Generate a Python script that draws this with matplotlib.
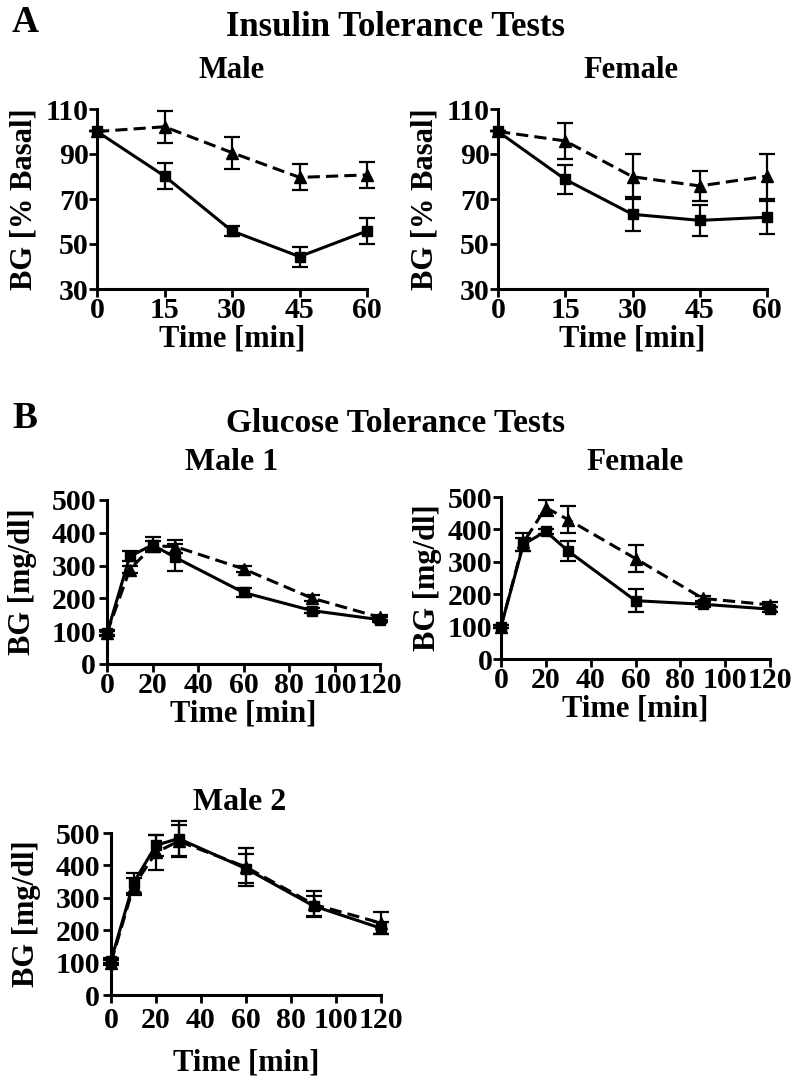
import matplotlib
matplotlib.use("Agg")
import matplotlib.pyplot as plt

plt.rcParams['font.family'] = ['Liberation Serif', 'DejaVu Serif']
plt.rcParams['font.weight'] = 'bold'

W, H = 798, 1078

# ---------------- data ----------------
itt_time = [0, 15, 30, 45, 60]
itt_male_sq = [100, 80.2, 55.8, 44.4, 55.8]
itt_male_sq_err = [0, 5.7, 2.3, 4.4, 5.9]
itt_male_tri = [100, 102.1, 90.6, 79.6, 80.7]
itt_male_tri_err = [0, 7.2, 7.1, 5.8, 5.9]
itt_fem_sq = [100, 78.7, 63.2, 60.5, 61.9]
itt_fem_sq_err = [0, 6.6, 7.6, 6.8, 7.3]
itt_fem_tri = [100, 95.8, 79.9, 75.8, 80.2]
itt_fem_tri_err = [0, 7.8, 10.1, 6.8, 10.0]
itt_yticks = [30, 50, 70, 90, 110]
itt_xticks = [0, 15, 30, 45, 60]

gtt_time = [0, 10, 20, 30, 60, 90, 120]
gtt_m1_sq = [93, 328, 363, 325, 218, 163, 135]
gtt_m1_sq_err = [8, 15, 23, 40, 15, 8, 8]
gtt_m1_tri = [95, 288, 360, 358, 290, 201, 142]
gtt_m1_tri_err = [8, 10, 15, 21, 8, 8, 8]
gtt_f_sq = [100, 354, 394, 333, 180, 169, 154]
gtt_f_sq_err = [5, 20, 8, 31, 35, 8, 8]
gtt_f_tri = [100, 360, 467, 430, 310, 187, 167]
gtt_f_tri_err = [5, 28, 25, 42, 41, 8, 8]
gtt_m2_sq = [106, 346, 462, 483, 390, 275, 206]
gtt_m2_sq_err = [8, 30, 32, 55, 45, 30, 18]
gtt_m2_tri = [100, 335, 440, 475, 395, 280, 222]
gtt_m2_tri_err = [8, 25, 55, 50, 60, 40, 35]
gtt_yticks = [0, 100, 200, 300, 400, 500]
gtt_xticks = [0, 20, 40, 60, 80, 100, 120]

fig = plt.figure(figsize=(W / 100, H / 100), dpi=100)


def add_ax(left, right, top, bottom):
    return fig.add_axes([left / W, 1 - bottom / H, (right - left) / W, (bottom - top) / H])


def ftext(x, y, s, size, ha='center', va='center', rot=0):
    fig.text(x / W, 1 - y / H, s, fontsize=size, ha=ha, va=va, rotation=rot,
             fontweight='bold')


def draw(ax, t, sq, sqe, tri, trie, xlim, ylim, xticks, yticks, ylabel,
         xpad=0, ypad=1, xtpad=0, ytpad=0):
    ax.errorbar(t, tri, yerr=trie, color='black', lw=2.2, ls=(0, (4, 2)),
                marker='^', ms=8, capsize=5.5, capthick=1.6, elinewidth=1.6,
                clip_on=False, zorder=3)
    ax.errorbar(t, sq, yerr=sqe, color='black', lw=2.2, ls='-',
                marker='s', ms=7, capsize=5.5, capthick=1.6, elinewidth=1.6,
                clip_on=False, zorder=4)
    ax.set_xlim(*xlim)
    ax.set_ylim(*ylim)
    ax.set_xticks(xticks)
    ax.set_yticks(yticks)
    for s in ['top', 'right']:
        ax.spines[s].set_visible(False)
    for s in ['left', 'bottom']:
        ax.spines[s].set_linewidth(2.2)
    ax.tick_params(width=2.0, length=6, labelsize=21.5)
    ax.tick_params(axis='x', pad=xtpad)
    ax.tick_params(axis='y', pad=ytpad)
    for lab in ax.get_xticklabels() + ax.get_yticklabels():
        lab.set_fontweight('bold')
    ax.set_xlabel('Time [min]', fontsize=22, fontweight='bold', labelpad=xpad)
    ax.set_ylabel(ylabel, fontsize=22, fontweight='bold', labelpad=ypad)


# Panel A
ax1 = add_ax(97, 367, 109, 289)
draw(ax1, itt_time, itt_male_sq, itt_male_sq_err, itt_male_tri, itt_male_tri_err,
     (0, 60), (30, 110), itt_xticks, itt_yticks, 'BG [% Basal]', ypad=5)
ax2 = add_ax(498, 767, 109, 289)
draw(ax2, itt_time, itt_fem_sq, itt_fem_sq_err, itt_fem_tri, itt_fem_tri_err,
     (0, 60), (30, 110), itt_xticks, itt_yticks, 'BG [% Basal]', ypad=5)

# Panel B
ax3 = add_ax(107, 380, 500, 664)
draw(ax3, gtt_time, gtt_m1_sq, gtt_m1_sq_err, gtt_m1_tri, gtt_m1_tri_err,
     (0, 120), (0, 500), gtt_xticks, gtt_yticks, 'BG [mg/dl]', ypad=10, ytpad=2)
ax4 = add_ax(501, 770, 497, 659)
draw(ax4, gtt_time, gtt_f_sq, gtt_f_sq_err, gtt_f_tri, gtt_f_tri_err,
     (0, 120), (0, 500), gtt_xticks, gtt_yticks, 'BG [mg/dl]', ypad=4)
ax5 = add_ax(111, 381, 833, 995)
draw(ax5, gtt_time, gtt_m2_sq, gtt_m2_sq_err, gtt_m2_tri, gtt_m2_tri_err,
     (0, 120), (0, 500), gtt_xticks, gtt_yticks, 'BG [mg/dl]', ypad=10,
     xpad=10, xtpad=3, ytpad=2)

# Titles
ftext(12, 22, 'A', 27, ha='left')
ftext(396, 27, 'Insulin Tolerance Tests', 25)
ftext(232, 71, 'Male', 22)
ftext(631, 71, 'Female', 22)
ftext(12, 418, 'B', 27, ha='left')
ftext(396, 423, 'Glucose Tolerance Tests', 24)
ftext(232, 463, 'Male 1', 23)
ftext(635, 463, 'Female', 22.5)
ftext(240, 803, 'Male 2', 23)

fig.savefig('out.png', dpi=100)
